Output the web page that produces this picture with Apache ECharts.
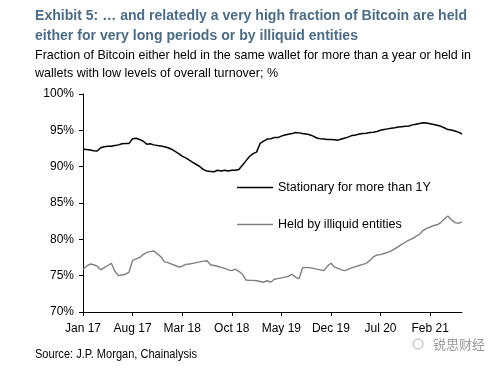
<!DOCTYPE html>
<html>
<head>
<meta charset="utf-8">
<script src="https://cdn.jsdelivr.net/npm/echarts@6/dist/echarts.min.js"></script>
<style>
html,body{margin:0;padding:0;background:#fff;}
#chart{width:500px;height:368px;}
</style>
</head>
<body>
<div id="chart"></div>
<script>
// ---- Data (half-monthly readings, Jan 2017 – Jun 2021) ----
const tickLabels = ['Jan 17','Aug 17','Mar 18','Oct 18','May 19','Dec 19','Jul 20','Feb 21'];
const seriesNames = ['Stationary for more than 1Y','Held by illiquid entities'];
const stationary = [
  92.4, 92.35, 92.3, 92.2, 92.15, 92.6, 92.75, 92.8, 92.8, 92.9, 93.0, 93.15,
  93.2, 93.2, 93.85, 93.9, 93.75, 93.5, 93.1, 93.15, 93.0, 92.9, 92.85, 92.75,
  92.6, 92.4, 92.1, 91.8, 91.45, 91.2, 90.9, 90.6, 90.3, 90.0, 89.6, 89.4,
  89.35, 89.3, 89.5, 89.4, 89.5, 89.4, 89.5, 89.5, 89.6, 90.2, 90.8, 91.4,
  91.8, 92.0, 93.2, 93.5, 93.8, 93.85, 94.0, 94.0, 94.2, 94.35, 94.45, 94.55,
  94.7, 94.65, 94.55, 94.5, 94.4, 94.2, 93.95, 93.85, 93.8, 93.75, 93.75, 93.7,
  93.65, 93.8, 93.95, 94.1, 94.3, 94.35, 94.5, 94.55, 94.6, 94.7, 94.75, 94.85,
  95.0, 95.1, 95.2, 95.3, 95.35, 95.45, 95.5, 95.55, 95.6, 95.75, 95.85, 95.95,
  96.05, 96.0, 95.9, 95.8, 95.7, 95.55, 95.35, 95.1, 95.05, 94.9, 94.75, 94.5
];
const illiquid = [
  75.9, 76.3, 76.6, 76.5, 76.3, 75.8, 76.1, 76.4, 76.7, 75.6, 75.0, 75.1,
  75.2, 75.5, 77.1, 77.3, 77.5, 77.9, 78.2, 78.3, 78.4, 78.0, 77.6, 76.9,
  76.8, 76.6, 76.4, 76.2, 76.3, 76.55, 76.6, 76.7, 76.8, 76.9, 77.0, 77.05,
  76.5, 76.4, 76.3, 76.15, 76.0, 75.8, 75.7, 75.9, 75.6, 75.2, 74.4, 74.35,
  74.35, 74.3, 74.2, 74.1, 74.3, 74.1, 74.5, 74.6, 74.7, 74.8, 74.9, 75.2,
  74.8, 74.6, 76.1, 76.1, 76.1, 76.0, 75.9, 75.8, 75.7, 76.3, 76.7, 76.2,
  76.0, 75.8, 75.7, 75.9, 76.1, 76.25, 76.4, 76.55, 76.7, 77.1, 77.6, 77.85,
  77.9, 78.05, 78.2, 78.4, 78.7, 79.0, 79.3, 79.6, 79.9, 80.1, 80.4, 80.7,
  81.2, 81.5, 81.7, 81.9, 82.0, 82.3, 82.8, 83.2, 82.7, 82.3, 82.2, 82.4
];
// category dates (1st and 16th of each month)
const categories = [];
for (let i = 0; i < stationary.length; i++) {
  const mIdx = Math.floor(i / 2);
  const y = 2017 + Math.floor(mIdx / 12);
  const m = (mIdx % 12) + 1;
  categories.push(y + '-' + String(m).padStart(2, '0') + '-' + (i % 2 ? '16' : '01'));
}
const titleLines = ['Exhibit 5: \u2026 and relatedly a very high fraction of Bitcoin are held',
                    'either for very long periods or by illiquid entities'];
const subtitleLines = ['Fraction of Bitcoin either held in the same wallet for more than a year or held in',
                       'wallets with low levels of overall turnover; %'];
const sourceText = 'Source: J.P. Morgan, Chainalysis';
const watermark = '\u9510\u601d\u8d22\u7ecf';

// ---- helpers to fit text widths ----
const FONT = '"Liberation Sans", Arial, sans-serif';
const mctx = document.createElement('canvas').getContext('2d');
function fitScale(text, font, target) {
  mctx.font = font;
  const w = mctx.measureText(text).width;
  return target / w;
}
function textEl(text, x, y, font, fill, targetW) {
  return {
    type: 'text', x: x, y: y,
    scaleX: targetW ? fitScale(text, font, targetW) : 1,
    style: { text: text, font: font, fill: fill, verticalAlign: 'middle', align: 'left' }
  };
}
const titleFont = 'bold 15px ' + FONT;
const subFont = '13.5px ' + FONT;
const srcFont = '12px ' + FONT;

const chart = echarts.init(document.getElementById('chart'));
chart.setOption({
  backgroundColor: '#ffffff',
  animation: false,
  grid: { left: 83, right: 38, top: 94, bottom: 56 },
  legend: {
    orient: 'vertical', left: 237, top: 181, padding: 0,
    icon: 'rect',
    itemWidth: 36, itemHeight: 1.5, itemGap: 24,
    textStyle: { fontFamily: FONT, fontSize: 12.5, color: '#000' },
    data: seriesNames
  },
  xAxis: {
    type: 'category', data: categories, boundaryGap: false,
    axisLine: { lineStyle: { color: '#000', width: 1 } },
    axisTick: { show: true, interval: 13, length: 4, lineStyle: { color: '#000' } },
    axisLabel: {
      interval: 13, margin: 11, color: '#000', fontFamily: FONT, fontSize: 12,
      formatter: function (v, idx) { return idx % 14 === 0 ? tickLabels[idx / 14] : ''; }
    },
    splitLine: { show: false }
  },
  yAxis: {
    type: 'value', min: 70, max: 100, interval: 5,
    axisLine: { show: true, lineStyle: { color: '#000', width: 1 } },
    axisTick: { show: true, length: 4, lineStyle: { color: '#000' } },
    axisLabel: { formatter: '{value}%', margin: 9, color: '#000', fontFamily: FONT, fontSize: 12 },
    splitLine: { show: false }
  },
  series: [
    { name: seriesNames[0], type: 'line', data: stationary, symbol: 'none',
      lineStyle: { color: '#000000', width: 1.5 }, itemStyle: { color: '#000000' } },
    { name: seriesNames[1], type: 'line', data: illiquid, symbol: 'none',
      lineStyle: { color: '#7f7f7f', width: 1.4 }, itemStyle: { color: '#7f7f7f' } }
  ],
  graphic: [
    textEl(titleLines[0], 35, 16, titleFont, '#4b6c88', 432),
    textEl(titleLines[1], 35, 36, titleFont, '#4b6c88', 323),
    textEl(subtitleLines[0], 35, 55, subFont, '#000', 436),
    textEl(subtitleLines[1], 35, 73, subFont, '#000', 243),
    textEl(sourceText, 35, 355, srcFont, '#000', 162),
    { type: 'circle', shape: { cx: 418, cy: 344, r: 5 }, style: { fill: 'none', stroke: '#b0b0b0', lineWidth: 1 } },
    textEl(watermark, 433, 344, '13px "Noto Sans CJK SC", sans-serif', '#9a9a9a', 52)
  ]
});
</script>
</body>
</html>
